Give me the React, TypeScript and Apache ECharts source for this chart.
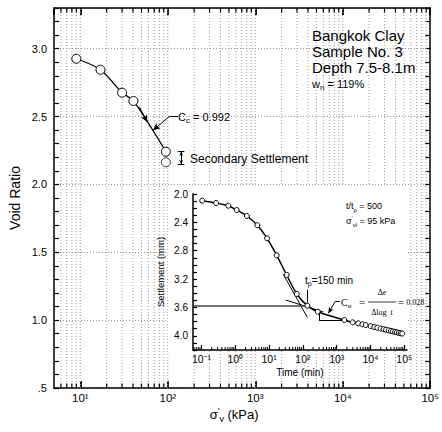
import React, { useEffect, useRef } from 'react';
import * as echarts from 'echarts';

// ---------- Main plot: void ratio vs effective vertical stress ----------
const PRESSURE_KPA = [9, 17, 30, 40.5, 95];
const VOID_RATIO = [2.926, 2.845, 2.676, 2.615, 2.241];
const SECONDARY_PRESSURE = [95];
const SECONDARY_VOID = [2.163];

// ---------- Inset: settlement vs time under 95 kPa ----------
const TIME_MIN = [
  0.105, 0.27, 0.62, 1.1, 2.2, 4.5, 8.7, 16.8, 33, 66, 135, 275, 1680, 2980, 4320,
  5760, 7200, 10080, 12960, 15840, 20160, 24480, 28800, 34560, 40320, 46080, 53280,
  60480, 69120, 77760, 86400,
];
const SETTLEMENT_MM = [
  2.094, 2.127, 2.165, 2.226, 2.31, 2.44, 2.625, 2.865, 3.142, 3.41, 3.575, 3.66, 3.777,
  3.81, 3.823, 3.838, 3.848, 3.864, 3.877, 3.886, 3.897, 3.906, 3.915, 3.923, 3.932,
  3.938, 3.946, 3.951, 3.958, 3.964, 3.968,
];

// ---------- Annotation lines (data coordinates) ----------
const CC_LEADER = [[131, 2.5], [104, 2.5], [68, 2.4]];
const CC_ARROW = [[47.3, 2.57], [58.3, 2.46]];
const SEC_SETTLE_X = [130, 142, 154.5];
const SEC_SETTLE_Y = [2.241, 2.15];
const STEEP_TANGENT = [[26.3, 3.133], [135, 3.739]];
const SECONDARY_TANGENT = [[31, 3.495], [400, 3.663]];
const EOP_LINE = [[0.056, 3.575], [160, 3.575]];
const TP_MARK = [[135, 3.53], [135, 3.35]];
const CA_TRIANGLE = [[300, 3.66], [300, 3.777], [1680, 3.777]];
const CA_LEADER = [[1250, 3.519], [891, 3.519], [565, 3.683]];

// ---------- Axis ranges ----------
const MAIN_X_RANGE = [5, 100000];
const MAIN_Y_RANGE = [0.5, 3.3];
const INSET_X_RANGE = [0.056, 120000];
const INSET_Y_RANGE = [2.0, 4.2];

const FONT = '"Liberation Sans", Arial, Helvetica, sans-serif';
const SERIF = '"Liberation Serif", "Times New Roman", serif';

const SUP: Record<string, string> = {
  '-': '⁻', '0': '⁰', '1': '¹', '2': '²', '3': '³', '4': '⁴', '5': '⁵', '6': '⁶', '7': '⁷', '8': '⁸', '9': '⁹',
};
const powLabel = (v: number) => {
  const e = Math.round(Math.log10(v));
  return '10' + String(e).split('').map((c) => SUP[c]).join('');
};

function logTicks(min: number, max: number, withMajors: boolean) {
  const out: number[] = [];
  for (let e = Math.floor(Math.log10(min)); e <= Math.ceil(Math.log10(max)); e++) {
    for (let m = withMajors ? 1 : 2; m <= 9; m++) {
      const v = m * Math.pow(10, e);
      if (v > min * 1.0001 && v < max * 0.9999) out.push(v);
    }
  }
  return out;
}

const MAIN_GRID_X = logTicks(MAIN_X_RANGE[0], MAIN_X_RANGE[1], true);
const INSET_MINOR_X = logTicks(INSET_X_RANGE[0], INSET_X_RANGE[1], false);

const seg = (a: number[], b: number[], endSymbol = 'none', extra: any = {}) => [
  { coord: a, symbol: 'none', ...extra },
  { coord: b, symbol: endSymbol },
];

const subRich = (size: number, family = FONT) => ({
  m: { fontSize: size, fontFamily: family, color: '#000', lineHeight: size + 4 },
  s: { fontSize: Math.round(size * 0.7), fontFamily: family, color: '#000', lineHeight: Math.round(size * 0.7), verticalAlign: 'bottom' },
  p: { fontSize: Math.round(size * 0.7), fontFamily: family, color: '#000', lineHeight: Math.round(size * 0.7), verticalAlign: 'top' },
});

const text = (x: number, y: number, t: string, size: number, opts: any = {}) => ({
  type: 'text',
  x,
  y,
  z: 6,
  silent: true,
  style: {
    text: t,
    fontSize: size,
    fontFamily: opts.family || FONT,
    fill: '#000',
    textAlign: opts.align || 'left',
    textVerticalAlign: 'middle',
    rich: opts.rich,
  },
});

export default function App() {
  const ref = useRef<HTMLDivElement>(null);

  useEffect(() => {
    if (!ref.current) return;
    const chart = echarts.init(ref.current, null, { renderer: 'svg' });

    const axisLineStyle = { color: '#000', width: 1.5 };

    const option: any = {
      animation: false,
      backgroundColor: '#fff',
      textStyle: { fontFamily: FONT },
      grid: [
        { left: 52, top: 8, right: 11, bottom: 44 },
        { left: 193, top: 194, width: 214, height: 156 },
      ],
      xAxis: [
        {
          gridIndex: 0,
          type: 'log',
          logBase: 10,
          min: MAIN_X_RANGE[0],
          max: MAIN_X_RANGE[1],
          position: 'bottom',
          name: "{m|σ}{p|'}{s|v}{m| (kPa)}",
          nameLocation: 'middle',
          nameGap: 18,
          nameMoveOverlap: false,
          nameTextStyle: { rich: subRich(13), padding: [0, 16, 0, 0] },
          axisLine: { lineStyle: axisLineStyle },
          axisTick: { inside: true, length: 7, lineStyle: { color: '#000', width: 1.8 } },
          axisLabel: { formatter: powLabel, showMinLabel: false, fontSize: 11.5, color: '#000', margin: 4, fontFamily: FONT },
          splitLine: { show: false },
        },
        {
          gridIndex: 0,
          type: 'log',
          logBase: 10,
          min: MAIN_X_RANGE[0],
          max: MAIN_X_RANGE[1],
          position: 'top',
          axisLine: { lineStyle: axisLineStyle },
          axisTick: { inside: true, length: 7, lineStyle: { color: '#000', width: 1.8 } },
          axisLabel: { show: false },
          splitLine: { show: false },
        },
        {
          gridIndex: 1,
          type: 'log',
          logBase: 10,
          min: INSET_X_RANGE[0],
          max: INSET_X_RANGE[1],
          position: 'bottom',
          z: 3,
          name: 'Time (min)',
          nameLocation: 'middle',
          nameGap: 17,
          nameMoveOverlap: false,
          nameTextStyle: { fontSize: 10, color: '#000', fontFamily: FONT },
          axisLine: { lineStyle: { color: '#000', width: 1.5 } },
          axisTick: { inside: true, length: 5, lineStyle: { color: '#000', width: 1.2 } },
          axisLabel: { formatter: powLabel, showMinLabel: false, showMaxLabel: false, fontSize: 10.5, color: '#000', margin: 3, fontFamily: FONT },
          splitLine: { show: false },
        },
      ],
      yAxis: [
        {
          gridIndex: 0,
          type: 'value',
          min: MAIN_Y_RANGE[0],
          max: MAIN_Y_RANGE[1],
          interval: 0.1,
          position: 'left',
          name: 'Void Ratio',
          nameLocation: 'middle',
          nameGap: 32,
          nameMoveOverlap: false,
          nameTextStyle: { fontSize: 14, color: '#000', fontFamily: FONT },
          axisLine: { lineStyle: axisLineStyle },
          axisTick: { inside: true, length: 5, lineStyle: { color: '#000', width: 1.2 } },
          axisLabel: {
            fontSize: 11,
            color: '#000',
            margin: 7,
            fontFamily: FONT,
            formatter: (v: number) => {
              const r = Math.round(v * 10);
              if (r % 5 !== 0) return '';
              return r === 5 ? '.5' : (r / 10).toFixed(1);
            },
          },
          splitLine: { show: false },
        },
        {
          gridIndex: 0,
          type: 'value',
          min: MAIN_Y_RANGE[0],
          max: MAIN_Y_RANGE[1],
          interval: 0.1,
          position: 'right',
          axisLine: { lineStyle: axisLineStyle },
          axisTick: { inside: true, length: 5, lineStyle: { color: '#000', width: 1.2 } },
          axisLabel: { show: false },
          splitLine: { show: false },
        },
        {
          gridIndex: 0,
          type: 'value',
          min: MAIN_Y_RANGE[0],
          max: MAIN_Y_RANGE[1],
          interval: 0.5,
          position: 'left',
          axisLine: { show: false },
          axisTick: { show: false },
          axisLabel: { show: false },
          splitLine: { show: true, lineStyle: { color: '#9a9a9a', width: 1, type: [1, 2] } },
        },
        {
          gridIndex: 1,
          type: 'value',
          inverse: true,
          min: INSET_Y_RANGE[0],
          max: INSET_Y_RANGE[1],
          interval: 0.1,
          position: 'left',
          z: 3,
          name: 'Settlement (mm)',
          nameLocation: 'middle',
          nameGap: 28,
          nameMoveOverlap: false,
          nameTextStyle: { fontSize: 9.5, color: '#000', fontFamily: FONT },
          axisLine: { lineStyle: { color: '#000', width: 1.5 } },
          axisTick: { inside: true, length: 4, lineStyle: { color: '#000', width: 1.2 } },
          axisLabel: {
            fontSize: 10,
            color: '#000',
            margin: 5,
            fontFamily: FONT,
            formatter: (v: number) => {
              const r = Math.round(v * 10);
              if ((r - 20) % 4 !== 0) return '';
              return (r / 10).toFixed(1);
            },
          },
          splitLine: { show: false },
        },
      ],
      series: [
        {
          type: 'custom',
          xAxisIndex: 0,
          yAxisIndex: 0,
          z: 1,
          silent: true,
          data: MAIN_GRID_X.map((v) => [v, MAIN_Y_RANGE[0]]),
          encode: { x: 0, y: 1 },
          renderItem: (params: any, api: any) => {
            const v = api.value(0);
            const lg = Math.log10(v);
            const major = Math.abs(lg - Math.round(lg)) < 1e-6;
            const b = api.coord([v, MAIN_Y_RANGE[0]]);
            const t = api.coord([v, MAIN_Y_RANGE[1]]);
            const children: any[] = [
              { type: 'line', shape: { x1: b[0], y1: b[1], x2: t[0], y2: t[1] }, style: { stroke: '#9a9a9a', lineWidth: 1, lineDash: [1, 2] } },
            ];
            if (!major) {
              children.push({ type: 'line', shape: { x1: b[0], y1: b[1], x2: b[0], y2: b[1] - 4.5 }, style: { stroke: '#000', lineWidth: 1.2 } });
              children.push({ type: 'line', shape: { x1: t[0], y1: t[1], x2: t[0], y2: t[1] + 4.5 }, style: { stroke: '#000', lineWidth: 1.2 } });
            }
            return { type: 'group', children };
          },
        },
        {
          type: 'line',
          name: 'Void ratio',
          xAxisIndex: 0,
          yAxisIndex: 0,
          z: 3,
          smooth: 0.3,
          data: PRESSURE_KPA.map((p, i) => [p, VOID_RATIO[i]]),
          symbol: 'circle',
          symbolSize: 9,
          itemStyle: { color: '#fff', borderColor: '#000', borderWidth: 1 },
          lineStyle: { color: '#000', width: 1.3 },
          markLine: {
            silent: true,
            symbolSize: [5, 7],
            label: { show: false },
            lineStyle: { color: '#000', width: 1, type: 'solid' },
            data: [
              seg(CC_LEADER[0], CC_LEADER[1]),
              seg(CC_LEADER[1], CC_LEADER[2], 'arrow'),
              seg(CC_ARROW[0], CC_ARROW[1], 'arrow'),
              [
                { coord: [SEC_SETTLE_X[1], SEC_SETTLE_Y[0]], symbol: 'arrow', symbolSize: [3, 4] },
                { coord: [SEC_SETTLE_X[1], SEC_SETTLE_Y[1]], symbol: 'arrow', symbolSize: [3, 4] },
              ],
              seg([SEC_SETTLE_X[0], SEC_SETTLE_Y[0]], [SEC_SETTLE_X[2], SEC_SETTLE_Y[0]]),
              seg([SEC_SETTLE_X[0], SEC_SETTLE_Y[1]], [SEC_SETTLE_X[2], SEC_SETTLE_Y[1]]),
            ],
          },
        },
        {
          type: 'scatter',
          name: 'Secondary',
          xAxisIndex: 0,
          yAxisIndex: 0,
          z: 3,
          data: SECONDARY_PRESSURE.map((p, i) => [p, SECONDARY_VOID[i]]),
          symbol: 'circle',
          symbolSize: 9,
          itemStyle: { color: '#fff', borderColor: '#000', borderWidth: 1 },
        },
        {
          type: 'custom',
          xAxisIndex: 2,
          yAxisIndex: 3,
          z: 4,
          silent: true,
          data: INSET_MINOR_X.map((v) => [v, INSET_Y_RANGE[1]]),
          encode: { x: 0, y: 1 },
          renderItem: (params: any, api: any) => {
            const v = api.value(0);
            const b = api.coord([v, INSET_Y_RANGE[1]]);
            return { type: 'line', shape: { x1: b[0], y1: b[1], x2: b[0], y2: b[1] - 3 }, style: { stroke: '#000', lineWidth: 1 } };
          },
        },
        {
          type: 'line',
          name: 'Settlement',
          xAxisIndex: 2,
          yAxisIndex: 3,
          z: 5,
          smooth: 0.3,
          data: TIME_MIN.map((t, i) => [t, SETTLEMENT_MM[i]]),
          symbol: 'circle',
          symbolSize: 5,
          itemStyle: { color: '#fff', borderColor: '#000', borderWidth: 1 },
          lineStyle: { color: '#000', width: 1.5 },
          markLine: {
            silent: true,
            symbolSize: [4, 6],
            label: { show: false },
            lineStyle: { color: '#000', width: 1, type: 'solid' },
            data: [
              seg(STEEP_TANGENT[0], STEEP_TANGENT[1]),
              seg(SECONDARY_TANGENT[0], SECONDARY_TANGENT[1]),
              seg(EOP_LINE[0], EOP_LINE[1], 'none', { lineStyle: { color: '#444', width: 1.5, type: 'solid' } }),
              seg(TP_MARK[0], TP_MARK[1]),
              seg(CA_TRIANGLE[0], CA_TRIANGLE[1]),
              seg(CA_TRIANGLE[1], CA_TRIANGLE[2]),
              seg(CA_LEADER[0], CA_LEADER[1]),
              seg(CA_LEADER[1], CA_LEADER[2], 'arrow'),
            ],
          },
        },
      ],
      graphic: [
        { type: 'rect', z: 1.5, silent: true, shape: { x: 168, y: 186, width: 239, height: 164 }, style: { fill: '#fff' } },
        text(312, 35, 'Bangkok Clay', 15),
        text(312, 51, 'Sample No. 3', 15),
        text(312, 67, 'Depth 7.5-8.1m', 15),
        text(312, 84, '{m|w}{s|n}{m| = 119%}', 11, { rich: subRich(11) }),
        text(178, 117, '{m|C}{s|c}{m| = 0.992}', 11, { rich: subRich(11) }),
        text(190, 159, 'Secondary Settlement', 12),
        text(346, 206, '{m|t/t}{s|p}{m| = 500}', 9, { rich: subRich(9) }),
        text(346, 221, "{m|σ}{p|'}{s|vl}{m| = 95 kPa}", 9, { rich: subRich(9) }),
        text(305, 280, '{m|t}{s|p}{m|=150 min}', 10, { rich: subRich(10) }),
        text(341, 302, '{m|C}{s|α}', 10, { rich: subRich(10, SERIF), family: SERIF }),
        text(362, 302, '=', 11, { family: SERIF, align: 'center' }),
        text(382, 292, 'Δe', 8, { family: SERIF, align: 'center' }),
        { type: 'line', z: 6, silent: true, shape: { x1: 368, y1: 302, x2: 396, y2: 302 }, style: { stroke: '#000', lineWidth: 0.8 } },
        text(382, 312, 'Δlog  t', 8, { family: SERIF, align: 'center' }),
        text(398, 302, '{e|=}{v| 0.028}', 8, {
          family: SERIF,
          rich: {
            e: { fontSize: 11, fontFamily: SERIF, color: '#000', lineHeight: 12 },
            v: { fontSize: 8, fontFamily: SERIF, color: '#000', lineHeight: 12 },
          },
        }),
      ],
    };

    chart.setOption(option);
    return () => chart.dispose();
  }, []);

  return <div ref={ref} style={{ position: 'fixed', left: 0, top: 0, width: 442, height: 432 }} />;
}
